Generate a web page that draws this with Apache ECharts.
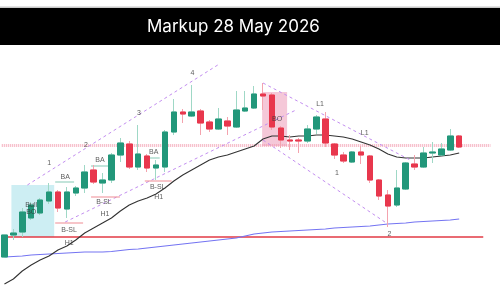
<!DOCTYPE html>
<html>
<head>
<meta charset="utf-8">
<script src="https://cdn.jsdelivr.net/npm/echarts@6/dist/echarts.min.js"></script>
<style>
html, body { margin: 0; padding: 0; background: #fff; }
#chart { width: 500px; height: 288px; }
</style>
</head>
<body>
<div id="chart"></div>
<script>
// candles, plot units (bigger = higher)
var opens  = [31,53,56,70,75,87,96,79,95,100,118,105,108,133,144,121,132,120,121,156,176,172,177,166,159,167,161,177,180,194,193,160,148,148,147,159,169,144,133,126,136,132,108,93,83,99,124,121,135,133,138,152];
var closes = [53,55,76,83,88,96,80,96,100,116,106,108,133,145,121,134,120,123,156,176,174,176,165,159,169,162,178,180,194,192,161,148,147,147,159,171,145,133,127,136,133,108,92,82,100,125,121,135,136,139,152,141];
var highs  = [53,59,80,86,90,105,98,101,102,123,123,115,135,150,147,163,134,128,158,189,179,203,179,168,180,171,197,197,202,205,195,162,153,150,163,173,176,145,136,137,142,133,109,98,118,126,133,141,146,145,159,153];
var lows   = [31,48,51,68,73,84,76,70,92,95,104,95,105,126,119,118,116,108,116,153,165,171,153,156,158,153,160,176,179,178,158,140,138,135,145,154,141,129,125,125,124,105,88,61,81,98,118,120,125,132,137,140];

var fastMA = [4,9,17,23,28,32,38,42,48,55,60,65,70,77,83,87,90,94,100,107,113,118,123,128,131,133,136,139,142,149,152,152,151,152,152,153,153,152,151,149,146,143,139,134,131,130,130,130,131,132,133,135];
var slowMA = [31,31.5,32,33,33.5,34,34.5,35,35.5,36,36,36,36.5,37.5,38.5,39,40,41,42,43,44,45,46,47,48,49,50,52,54,55,56,56.5,57,57.5,58,58.5,59,60,60.5,61,61.5,62,63,64,64.5,65,66,66.5,67,67.5,68,69];

var slots = 56;

// dashed trend lines [x1, y1, x2, y2] in candle index / plot units
var trendLines = [[2.57,103,24.1,224],[6.81,66,32.7,178],[29.0,205,45.5,128],[29.0,148,43.0,64]];
// short level lines
var baLines  = [[5.69,7.81,106],[9.71,11.83,122],[15.74,17.41,130]];
var bslLines = [[5.69,8.82,65],[9.71,12.95,91],[15.74,18.75,107]];
var redLevel = [-0.3, 53.7, 51];
var pinkLevel = [-0.3, 54.5, 142.5];
// boxes [x1, y1, x2, y2]
var bullBox = [0.78, 51, 5.58, 103];
var boBox = [28.9, 142, 31.7, 196];

var noteText = ['Bull\nBO','BA','BA','BA','B-SL','B-SL','B-SL','H1','H1','H1','1','2','3','4','BO','L1','L1','1','2'];
var noteX = [3.0,6.81,10.71,16.74,7.25,11.16,17.19,7.25,11.27,17.3,5.02,9.15,15.07,21.09,30.58,35.4,40.4,37.28,43.19];
var noteY = [79,111,128,136,58,86,101,45,74,91,125,143,175,215,169,184,155,115,54];

var up = '#22977a', down = '#e8374d';
var upWick = '#9fd8c6', downWick = '#f4a3ae';

var wickData = [], bodyData = [];
for (var i = 0; i < opens.length; i++) {
    wickData.push([opens[i], closes[i], lows[i], highs[i]]);
    bodyData.push([opens[i], closes[i], Math.min(opens[i], closes[i]), Math.max(opens[i], closes[i])]);
}
var cats = [];
for (var k = 0; k < slots; k++) cats.push(String(k));

function seg(x1, y1, x2, y2, color, width, type, z) {
    return {
        type: 'line', xAxisIndex: 1, yAxisIndex: 0, symbol: 'none', silent: true, z: z,
        data: [[x1, y1], [x2, y2]],
        lineStyle: {color: color, width: width, type: type}
    };
}
function box(b, color) {
    return {
        type: 'line', xAxisIndex: 1, data: [], silent: true, z: 0,
        markArea: {silent: true, itemStyle: {color: color},
            data: [[{coord: [b[0], b[1]]}, {coord: [b[2], b[3]]}]]}
    };
}
function maData(arr) {
    return arr.map(function (v, i) { return [i, v]; });
}

var series = [
    box(bullBox, '#cdeef3'),
    box(boBox, 'rgba(240,170,195,0.65)'),
    seg(pinkLevel[0], pinkLevel[2], pinkLevel[1], pinkLevel[2], 'rgba(240,150,170,0.75)', 3, [1, 1], 1),
    seg(redLevel[0], redLevel[2], redLevel[1], redLevel[2], '#e23a44', 1.5, 'solid', 2),
    {type: 'line', xAxisIndex: 1, symbol: 'none', silent: true, z: 2, data: maData(slowMA),
        lineStyle: {color: '#7474f2', width: 1.1}},
    {type: 'line', xAxisIndex: 1, symbol: 'none', silent: true, z: 2, data: maData(fastMA),
        lineStyle: {color: '#333', width: 1.1}}
];
trendLines.forEach(function (t) {
    series.push(seg(t[0], t[1], t[2], t[3], '#c38ef0', 1, [3, 3], 2));
});
baLines.forEach(function (t) {
    series.push(seg(t[0], t[2], t[1], t[2], '#86c9b6', 1.2, 'solid', 2));
});
bslLines.forEach(function (t) {
    series.push(seg(t[0], t[2], t[1], t[2], '#f08c94', 1.2, 'solid', 2));
});
series.push({
    type: 'candlestick', xAxisIndex: 0, data: wickData, barWidth: 6, z: 3, silent: true,
    itemStyle: {color: upWick, color0: downWick, borderColor: upWick, borderColor0: downWick, borderWidth: 1}
});
series.push({
    type: 'candlestick', xAxisIndex: 0, data: bodyData, barWidth: 6, z: 4, silent: true,
    itemStyle: {color: up, color0: down, borderColor: up, borderColor0: down, borderWidth: 1}
});
series.push({
    type: 'scatter', xAxisIndex: 1, symbolSize: 0, z: 5, silent: true,
    data: noteText.map(function (t, i) { return {name: t, value: [noteX[i], noteY[i]]}; }),
    label: {show: true, position: 'inside', formatter: '{b}', color: '#333',
        fontSize: 7, lineHeight: 7, fontFamily: 'Liberation Sans'}
});

var myChart = echarts.init(document.getElementById('chart'), null, {renderer: 'canvas'});
var option = {
    animation: false,
    backgroundColor: '#fff',
    title: {
        text: 'Markup 28 May 2026',
        left: 147, top: 18, padding: 0,
        textStyle: {color: '#fff', fontSize: 17, fontWeight: 'normal', fontFamily: 'Inter'}
    },
    graphic: [
        {type: 'rect', shape: {x: 0, y: 6.5, width: 500, height: 1.5}, style: {fill: '#c8c8c8'}, z: -1},
        {type: 'rect', shape: {x: 0, y: 8, width: 500, height: 37}, style: {fill: '#000'}, z: -1}
    ],
    grid: {left: -2.5, top: 48, width: 501.8, height: 240},
    xAxis: [
        {type: 'category', data: cats, show: false, boundaryGap: true},
        {type: 'value', min: -0.5, max: slots - 0.5, show: false}
    ],
    yAxis: {type: 'value', min: 0, max: 240, show: false},
    series: series
};
myChart.setOption(option);
</script>
</body>
</html>
